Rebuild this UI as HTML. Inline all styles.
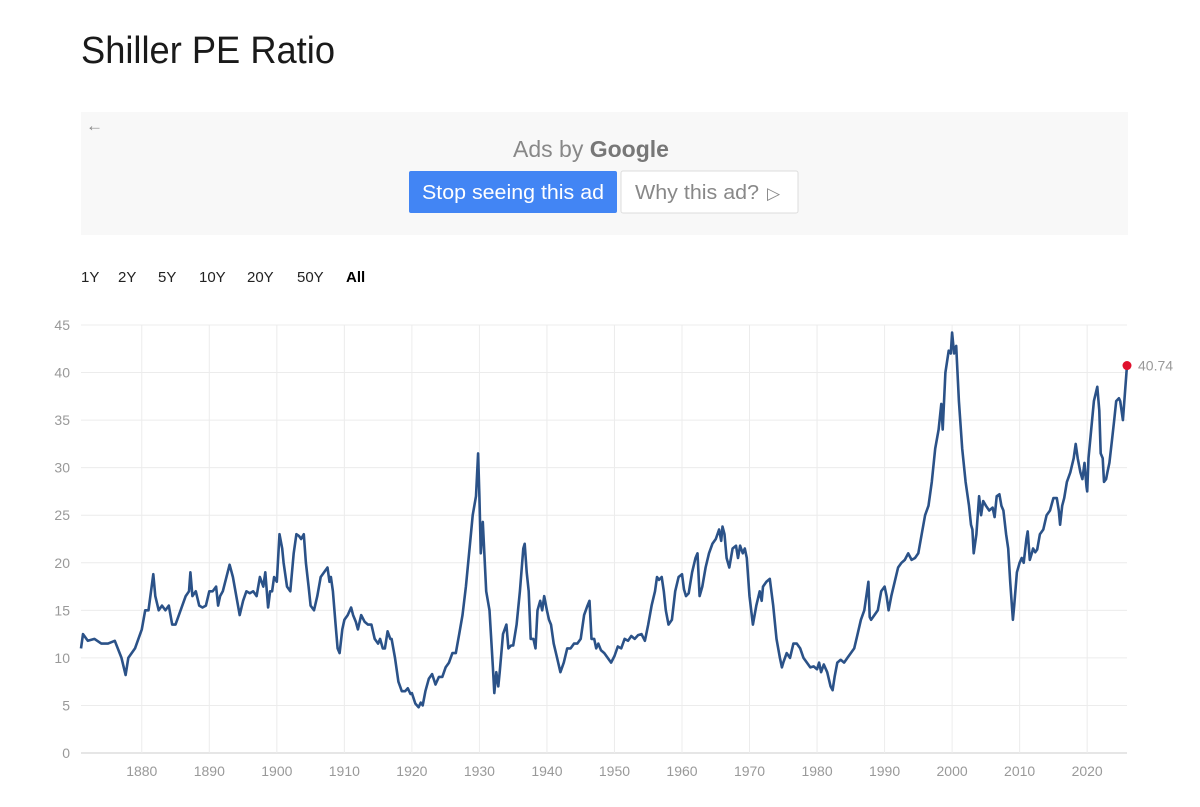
<!DOCTYPE html>
<html><head><meta charset="utf-8"><style>
body{margin:0;background:#fff;width:1200px;height:802px;overflow:hidden;font-family:"Liberation Sans",sans-serif}
</style></head><body>
<svg width="1200" height="802" xmlns="http://www.w3.org/2000/svg">
<text x="81" y="63" font-size="38" fill="#1a1a1a" textLength="254" lengthAdjust="spacingAndGlyphs">Shiller PE Ratio</text>
<g>
<rect x="81" y="112" width="1047" height="123" fill="#f8f8f8"/>
<text x="86" y="131" font-size="17" fill="#888">←</text>
<text x="513" y="157" font-size="23" fill="#888">Ads by <tspan font-weight="bold" fill="#777">Google</tspan></text>
<rect x="409" y="171" width="208" height="42" rx="2" fill="#4285f4"/>
<text x="513" y="199" font-size="20" fill="#fff" text-anchor="middle" textLength="182" lengthAdjust="spacingAndGlyphs">Stop seeing this ad</text>
<rect x="621" y="171" width="177" height="42" rx="2" fill="#fff" stroke="#ddd"/>
<text x="635" y="199" font-size="20" fill="#888" textLength="124" lengthAdjust="spacingAndGlyphs">Why this ad?</text>
<text x="767" y="199" font-size="17" fill="#888">▷</text>
</g>
<g font-size="15" fill="#222">
<text x="81" y="282">1Y</text>
<text x="118" y="282">2Y</text>
<text x="158" y="282">5Y</text>
<text x="199" y="282">10Y</text>
<text x="247" y="282">20Y</text>
<text x="297" y="282">50Y</text>
<text x="346" y="282" font-weight="bold" fill="#000">All</text>
</g>
<g id="chart"></g>
</svg>
<script>
const years=[1871,1871.3,1872,1873,1874,1875,1876,1877,1877.6,1878,1879,1880,1880.5,1881,1881.7,1882,1882.5,1883,1883.5,1884,1884.5,1885,1886,1886.5,1887,1887.2,1887.5,1888,1888.5,1889,1889.5,1890,1890.5,1891,1891.3,1891.6,1892,1893,1893.5,1894,1894.5,1895,1895.5,1896,1896.5,1897,1897.5,1898,1898.3,1898.7,1899,1899.3,1899.6,1900,1900.4,1900.8,1901,1901.5,1902,1902.5,1902.9,1903.3,1903.6,1904,1904.3,1904.7,1905,1905.5,1906,1906.5,1907,1907.5,1907.8,1908,1908.3,1908.7,1909,1909.3,1909.7,1910,1910.5,1911,1911.3,1911.7,1912,1912.5,1913,1913.5,1914,1914.5,1915,1915.3,1915.7,1916,1916.4,1916.8,1917,1917.5,1918,1918.5,1919,1919.4,1919.8,1920,1920.5,1921,1921.3,1921.6,1922,1922.5,1923,1923.5,1924,1924.5,1925,1925.5,1926,1926.5,1927,1927.5,1928,1928.6,1929,1929.5,1929.8,1930,1930.2,1930.5,1931,1931.5,1932,1932.2,1932.5,1932.8,1933,1933.5,1934,1934.3,1934.7,1935,1935.5,1936,1936.5,1936.7,1937,1937.3,1937.6,1938,1938.3,1938.6,1939,1939.3,1939.6,1940,1940.3,1940.6,1941,1941.5,1942,1942.5,1943,1943.5,1944,1944.5,1945,1945.5,1946,1946.3,1946.6,1947,1947.3,1947.6,1948,1948.5,1949,1949.5,1950,1950.5,1951,1951.5,1952,1952.5,1953,1953.5,1954,1954.5,1955,1955.5,1956,1956.3,1956.6,1957,1957.3,1957.6,1958,1958.5,1959,1959.5,1960,1960.3,1960.6,1961,1961.5,1962,1962.3,1962.6,1963,1963.5,1964,1964.5,1965,1965.5,1965.8,1966,1966.3,1966.6,1967,1967.5,1968,1968.3,1968.6,1969,1969.3,1969.6,1970,1970.5,1971,1971.5,1971.8,1972,1972.5,1973,1973.5,1974,1974.5,1974.8,1975,1975.5,1976,1976.5,1977,1977.5,1978,1978.5,1979,1979.5,1980,1980.3,1980.6,1981,1981.5,1982,1982.3,1982.6,1983,1983.5,1984,1984.5,1985,1985.5,1986,1986.5,1987,1987.6,1987.8,1988,1988.5,1989,1989.5,1990,1990.3,1990.6,1991,1991.5,1992,1992.5,1993,1993.5,1994,1994.5,1995,1995.5,1996,1996.5,1997,1997.5,1998,1998.4,1998.6,1999,1999.5,1999.8,2000,2000.3,2000.6,2001,2001.5,2002,2002.5,2002.8,2003,2003.2,2003.6,2004,2004.3,2004.6,2005,2005.5,2006,2006.3,2006.6,2007,2007.3,2007.6,2008,2008.3,2008.6,2009,2009.2,2009.6,2010,2010.3,2010.6,2011,2011.2,2011.5,2011.8,2012,2012.3,2012.6,2013,2013.5,2014,2014.5,2015,2015.5,2015.8,2016,2016.3,2016.6,2017,2017.5,2018,2018.3,2018.6,2019,2019.3,2019.6,2019.9,2020,2020.2,2020.6,2021,2021.5,2021.8,2022,2022.3,2022.5,2022.8,2023,2023.3,2023.7,2024,2024.3,2024.7,2024.9,2025.3,2025.9];
const values=[11,12.5,11.8,12,11.5,11.5,11.8,10,8.2,10,11,13,15,15,18.8,16.5,15,15.5,15,15.5,13.5,13.5,15.5,16.5,17,19,16.5,17,15.5,15.3,15.5,17,17,17.5,15.5,16.5,17,19.8,18.5,16.5,14.5,16,17,16.8,17,16.5,18.5,17.5,19,15.3,17,17,18.5,18,23,21.5,20,17.5,17,21,23,22.8,22.5,23,20,17.5,15.5,15,16.5,18.5,19,19.5,18,18.5,17,13.5,11,10.5,13,14,14.5,15.3,14.5,13.8,13,14.5,13.8,13.5,13.5,12,11.5,12,11,11,12.8,12,12,10,7.5,6.5,6.5,6.8,6.2,6.3,5.2,4.8,5.3,5,6.5,7.8,8.3,7.2,8,8,9,9.5,10.5,10.5,12.5,14.5,17.5,22,25,27,31.5,27,21,24.3,17,15,9,6.3,8.5,7,8.5,12.5,13.5,11,11.3,11.3,13.5,17,21.5,22,19,17,12,12,11,15,16,15,16.5,15,14,13.5,11.5,10,8.5,9.5,11,11,11.5,11.5,12,14.5,15.5,16,12,12,11,11.5,10.8,10.5,10,9.5,10.2,11.2,11,12,11.8,12.3,12,12.4,12.5,11.8,13.5,15.5,17,18.5,18.2,18.5,17,15,13.5,14,17,18.5,18.8,17.2,16.5,16.8,19,20.5,21,16.5,17.5,19.5,21,22,22.5,23.5,22.3,23.8,23,20.5,19.5,21.5,21.8,20.5,21.8,21,21.5,20.5,16.5,13.5,15.5,17,16,17.5,18,18.3,15.5,12,10,9,9.5,10.5,10,11.5,11.5,11,10,9.5,9,9.1,8.8,9.5,8.5,9.3,8.5,7,6.6,8,9.5,9.8,9.5,10,10.5,11,12.5,14,15,18,14.3,14,14.5,15,17,17.5,16.5,15,16.5,18,19.5,20,20.3,21,20.3,20.5,21,23,25,26,28.5,32,34,36.7,34,40,42.3,42,44.2,42,42.8,37,32,28.5,26,24,23.5,21,23,27,25,26.5,26,25.5,25.8,24.8,27,27.2,26,25.5,23,21.5,18,14,15.5,19,20,20.5,20,22.5,23.3,20.3,21,21.5,21.1,21.4,23,23.5,25,25.5,26.8,26.8,25.5,24,26,26.8,28.5,29.5,31,32.5,31,29.5,28.8,30.5,28,27.5,31,34,37,38.5,36,31.5,31,28.5,28.8,29.5,30.5,33,35,37,37.3,37,35,40.74];
const yTicks=[0,5,10,15,20,25,30,35,40,45];
const xTicks=[1880,1890,1900,1910,1920,1930,1940,1950,1960,1970,1980,1990,2000,2010,2020];
const lastLabel="40.74";
const NS="http://www.w3.org/2000/svg";
const X0=81,X1=1127,Y0=753,Y1=325;
const xMin=1871,xMax=2025.9,yMax=45;
const sx=v=>X0+(v-xMin)/(xMax-xMin)*(X1-X0);
const sy=v=>Y0-v/yMax*(Y0-Y1);
const g=document.getElementById('chart');
function mk(t,a){const e=document.createElementNS(NS,t);for(const k in a)e.setAttribute(k,a[k]);g.appendChild(e);return e;}
yTicks.forEach(t=>{
 const l=mk('line',{x1:X0,x2:X1,y1:sy(t),y2:sy(t),stroke:t===0?'#ccc':'#ececec','stroke-width':1});
 
 
 const tx=mk('text',{x:70,y:sy(t)+5,'text-anchor':'end','font-size':14,fill:'#999'});
 tx.textContent=t;
 
 
});
xTicks.forEach(t=>{
 const l=mk('line',{x1:sx(t),x2:sx(t),y1:Y1,y2:Y0,stroke:'#ececec','stroke-width':1});
 
 
 const tx=mk('text',{x:sx(t),y:776,'text-anchor':'middle','font-size':14,fill:'#999'});
 tx.textContent=t;
 
 
});
let d='';years.forEach((y,i)=>{d+=(i?'L':'M')+sx(y).toFixed(1)+','+sy(values[i]).toFixed(1);});
const p=mk('path',{d:d,fill:'none',stroke:'#2b5288','stroke-width':2.6,'stroke-linejoin':'round'});


const n=years.length-1;
const c=mk('circle',{cx:sx(years[n]),cy:sy(values[n]),r:4.5,fill:'#e0102c'});


const lt=mk('text',{x:sx(years[n])+11,y:sy(values[n])+5,'font-size':14,fill:'#999'});
lt.textContent=lastLabel;


</script>
</body></html>
